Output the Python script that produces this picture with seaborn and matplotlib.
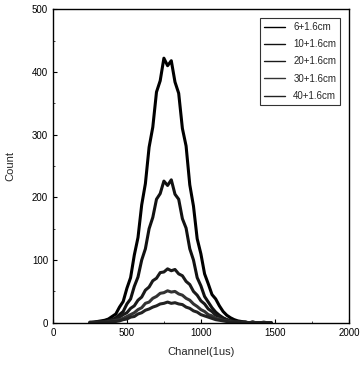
import pandas as pd
import matplotlib
matplotlib.use("Agg")
import matplotlib.pyplot as plt
from matplotlib.ticker import MultipleLocator
import seaborn as sns

channels = list(range(250, 1500, 25))

labels = ["6+1.6cm", "10+1.6cm", "20+1.6cm", "30+1.6cm", "40+1.6cm"]

counts_6 = [1, 1, 2, 3, 4, 6, 10, 14, 25, 34, 55, 72, 108, 136, 188, 222, 280, 312, 368, 386,
            422, 410, 418, 384, 366, 310, 282, 220, 186, 134, 110, 78, 62, 45, 38, 27, 18, 12, 8, 5,
            3, 2, 1, 0, 1, 0, 0, 1, 0, 0]
counts_10 = [0, 0, 1, 1, 2, 3, 5, 8, 13, 18, 30, 38, 58, 73, 100, 118, 150, 168, 197, 206,
             226, 219, 228, 205, 197, 166, 151, 118, 100, 72, 59, 42, 33, 24, 17, 12, 8, 5, 3, 2,
             1, 0, 1, 0, 0, 0, 0, 0, 0, 0]
counts_20 = [0, 1, 1, 1, 2, 3, 5, 6, 9, 13, 16, 23, 27, 36, 41, 52, 57, 67, 71, 80,
             81, 86, 83, 85, 78, 75, 66, 61, 50, 44, 35, 30, 22, 18, 12, 10, 7, 5, 3, 2,
             1, 1, 1, 0, 1, 0, 0, 0, 0, 0]
counts_30 = [0, 0, 1, 1, 1, 2, 3, 4, 5, 7, 10, 13, 16, 21, 24, 31, 33, 39, 42, 47,
             48, 51, 49, 50, 46, 44, 39, 36, 30, 26, 21, 18, 13, 11, 7, 6, 4, 3, 2, 1,
             1, 1, 0, 0, 1, 0, 0, 0, 0, 0]
counts_40 = [0, 0, 0, 1, 1, 1, 2, 2, 3, 5, 6, 9, 10, 14, 16, 20, 22, 25, 27, 30,
             31, 33, 31, 32, 30, 29, 25, 23, 19, 17, 13, 11, 9, 7, 5, 4, 3, 2, 1, 1,
             1, 0, 0, 0, 0, 0, 0, 0, 0, 0]

series = [counts_6, counts_10, counts_20, counts_30, counts_40]

rows = []
for lab, vals in zip(labels, series):
    for c, v in zip(channels, vals):
        rows.append({"Channel": c, "Count": v, "Series": lab})
df = pd.DataFrame(rows)

sns.set_style("ticks")
plt.rcParams["font.family"] = ["Liberation Sans", "DejaVu Sans"]

fig = plt.figure(figsize=(3.6, 3.71), dpi=100)
ax = fig.add_axes([0.147, 0.13, 0.822, 0.845])

palette = ["#000000", "#111111", "#1a1a1a", "#333333", "#222222"]
sns.lineplot(data=df, x="Channel", y="Count", hue="Series", palette=palette,
             linewidth=2.2, ax=ax)

ax.set_xlim(0, 2000)
ax.set_ylim(0, 500)
ax.set_xticks([0, 500, 1000, 1500, 2000])
ax.set_yticks([0, 100, 200, 300, 400, 500])
ax.yaxis.set_minor_locator(MultipleLocator(50))
ax.xaxis.set_minor_locator(MultipleLocator(250))
ax.tick_params(direction="in", length=3, width=0.8, labelsize=7, colors="black")
ax.tick_params(which="minor", direction="in", length=1.5, width=0.6)
for s in ax.spines.values():
    s.set_visible(True)
    s.set_color("black")
    s.set_linewidth(1.0)
ax.set_xlabel("Channel(1us)", fontsize=8, labelpad=7)
ax.set_ylabel("Count", fontsize=8, labelpad=12)

leg = ax.legend(loc="upper right", fontsize=7, frameon=True, fancybox=False,
                edgecolor="black", handlelength=2.2, borderaxespad=0.9,
                labelspacing=0.75)
leg.get_frame().set_linewidth(0.8)
for line in leg.get_lines():
    line.set_linewidth(1.0)

fig.savefig("out.png", dpi=100)
